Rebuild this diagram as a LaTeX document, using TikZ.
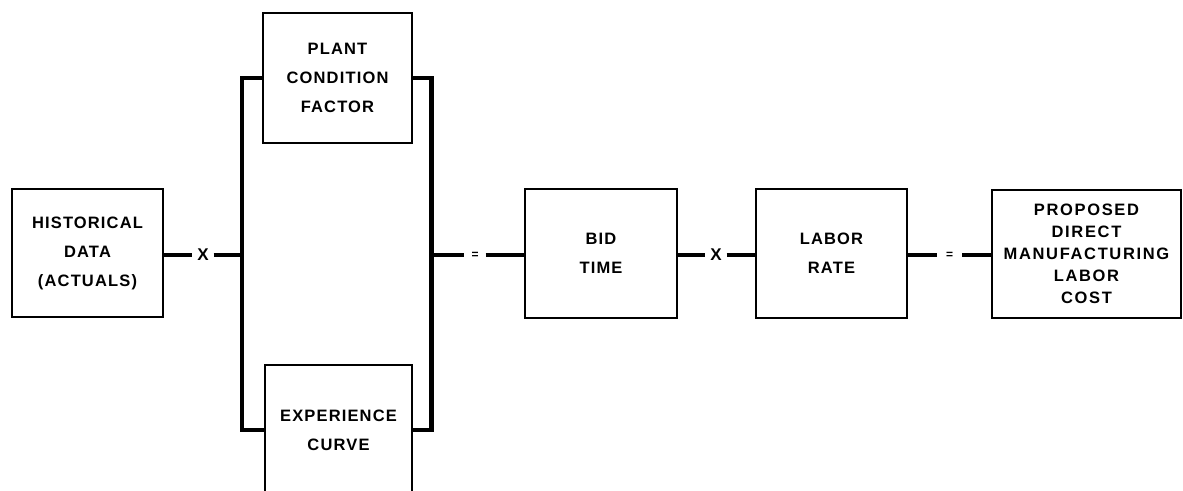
\documentclass[tikz,border=0pt]{standalone}
\usepackage{fontspec}
\newfontfamily\lblfont{Liberation Sans}[LetterSpace=7]
\newfontfamily\widelblfont{Liberation Sans}[LetterSpace=10]
\begin{document}
\begin{tikzpicture}[x=1pt,y=-1pt,
  blk/.style={draw, line width=2.8pt, rectangle, align=center,
    font=\lblfont\bfseries\fontsize{16.5}{29}\selectfont, inner sep=0pt},
  conn/.style={line width=4.2pt, line cap=butt, line join=miter},
  op/.style={inner sep=0pt, minimum width=21pt, minimum height=12pt,
    font=\lblfont\bfseries\fontsize{17}{17}\selectfont},
  opsmall/.style={op, font=\lblfont\bfseries\fontsize{12}{12}\selectfont}]
  \clip (0,0) rectangle (1183,490);
  \useasboundingbox (0,0) rectangle (1183,490);

  % blocks
  \node[blk, minimum width=151pt, minimum height=128pt] (hist) at (87.5,253)
    {HISTORICAL\\DATA\\(ACTUALS)};
  \node[blk, minimum width=149pt, minimum height=130pt] (plant) at (337.5,78)
    {PLANT\\CONDITION\\FACTOR};
  \node[blk, minimum width=147pt, minimum height=130pt] (exp) at (338.5,430)
    {EXPERIENCE\\CURVE};
  \node[blk, minimum width=152pt, minimum height=129pt] (bid) at (601,253.5)
    {BID\\TIME};
  \node[blk, minimum width=151pt, minimum height=129pt] (labor) at (831.5,253.5)
    {LABOR\\RATE};
  \node[blk, minimum width=189pt, minimum height=128pt,
    font=\widelblfont\bfseries\fontsize{16.5}{22}\selectfont] (prop) at (1086.5,254)
    {PROPOSED\\DIRECT\\MANUFACTURING\\LABOR\\COST};

  % operators
  \node[op] (x1) at (203,255) {X};
  \node[opsmall] (eq1) at (475,255) {=};
  \node[op] (x2) at (716,255) {X};
  \node[opsmall, minimum width=25pt] (eq2) at (949.5,255) {=};

  % bracket joining the two factor blocks
  \draw[conn] (plant.west) -- ++(-20,0) coordinate (lt) -- (lt |- exp.west) -- (exp.west);
  \draw[conn] (plant.east) -- ++(18,0) coordinate (rt) -- (rt |- exp.east) -- (exp.east);

  % chain of operations
  \draw[conn] (hist.east |- x1.west) -- (x1.west);
  \draw[conn] (x1.east) -- (x1.east -| lt);
  \draw[conn] (rt |- eq1.west) -- (eq1.west);
  \draw[conn] (eq1.east) -- (eq1.east -| bid.west);
  \draw[conn] (bid.east |- x2.west) -- (x2.west);
  \draw[conn] (x2.east) -- (x2.east -| labor.west);
  \draw[conn] (labor.east |- eq2.west) -- (eq2.west);
  \draw[conn] (eq2.east) -- (eq2.east -| prop.west);
\end{tikzpicture}
\end{document}
